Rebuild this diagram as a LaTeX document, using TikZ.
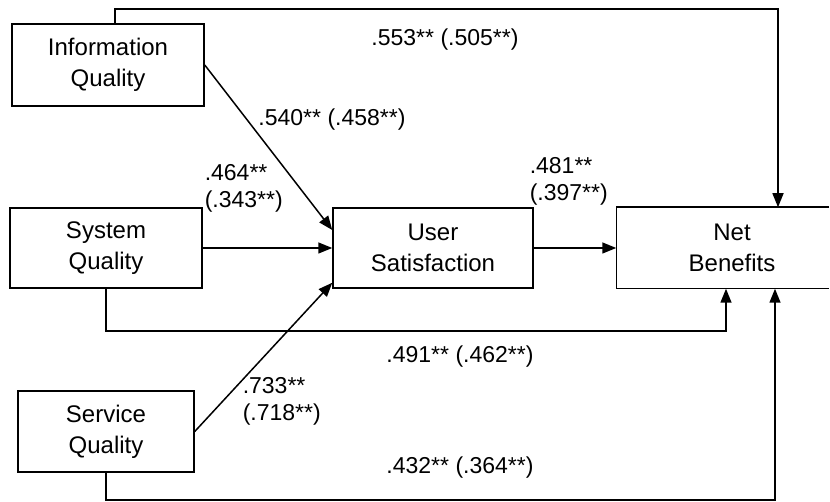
\documentclass[tikz,border=0pt]{standalone}
\usepackage{fontspec}
\setmainfont{Liberation Sans}
\usepackage{tikz}
\usetikzlibrary{arrows.meta}
\usetikzlibrary{positioning, calc}

\begin{document}
\begin{tikzpicture}[x=1pt, y=1pt, line width=1.5pt,
	box/.style={draw, rectangle, minimum height=80pt, align=center, inner sep=0pt,
		font=\fontsize{24}{31}\selectfont},
	link/.style={-{Triangle[length=14pt,width=11pt]}},
	coef/.style={inner sep=0pt, align=left, font=\fontsize{23}{27}\selectfont}]
			\useasboundingbox (0,0) rectangle (830,502);
			
			\node[box, minimum width=192pt, minimum height=82pt] (info) at (108,437) {Information\\Quality};
			\node[box, minimum width=192pt] (sys) at (106,254) {System\\Quality};
			\node[box, minimum width=176pt, minimum height=81pt] (serv) at (106,70.5) {Service\\Quality};
			\node[box, minimum width=200pt] (user) at (433,254) {User\\Satisfaction};
			% right side of this box runs off the page
			\node[box, draw=none, minimum width=230pt] (net) at (732,254) {Net\\Benefits};
			\coordinate (edge) at (829,0);
			\draw (net.north -| edge) -- (net.north west) -- (net.south west) -- (net.south -| edge);
			
			\coordinate (topL) at (115,493);
			\coordinate (topR) at (778,493);
			\coordinate (midB) at (726,171);
			\coordinate (lowB) at (775,2);
			
			\draw[link] (info.north -| topL) -- (topL) -- (topR) -- (net.north -| topR);
			\draw[link] (info.east) -- ($(user.west)+(0,18)$);
			\draw[link] (sys) -- (user);
			\draw[link] (serv.east) -- ($(user.south west)+(0,6)$);
			\draw[link] (user) -- (net);
			\draw[link] (sys.south) |- (midB) -- (net.south -| midB);
			\draw[link] (serv.south) |- (lowB) -- (net.south -| lowB);
			
			\node[coef] (cTop) at (445,462) {.553** (.505**)};
			\node[coef] (cInfo) at (332,382) {.540** (.458**)};
			\node[coef, anchor=west] (cSys) at (204,314) {.464**\\(.343**)};
			\node[coef, anchor=west] (cUser) at (529,321) {.481**\\(.397**)};
			\node[coef, anchor=west] (cServ) at (242,101) {.733**\\(.718**)};
			\node[coef] (cSysNet) at (460,145) {.491** (.462**)};
			\node[coef] (cServNet) at (460,34) {.432** (.364**)};
\end{tikzpicture}
\end{document}
